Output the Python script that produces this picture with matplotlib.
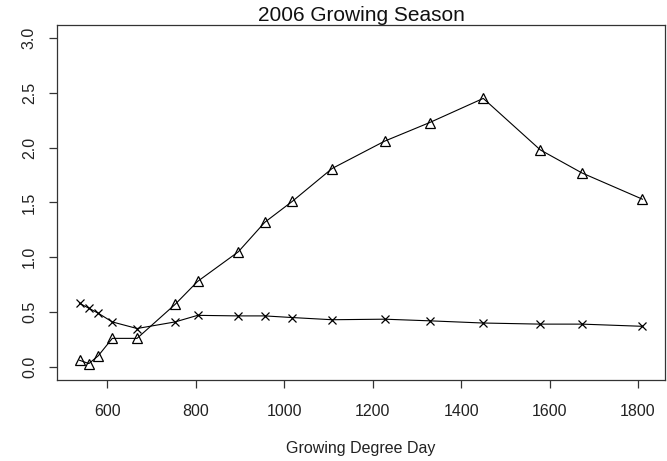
import numpy as np
import matplotlib.pyplot as plt

# growing degree day for each sampling date
gdd = [537, 558, 579, 611, 667, 753, 804, 896, 956, 1018, 1108,
       1227, 1329, 1450, 1579, 1673, 1810]
# series plotted with open triangles
tri_vals = [0.06, 0.03, 0.10, 0.26, 0.26, 0.57, 0.78, 1.05, 1.32, 1.51, 1.81,
            2.06, 2.23, 2.45, 1.98, 1.77, 1.53]
# series plotted with crosses
cross_vals = [0.58, 0.535, 0.49, 0.41, 0.35, 0.41, 0.47, 0.465, 0.465, 0.45, 0.43,
              0.435, 0.42, 0.40, 0.39, 0.39, 0.37]

xticks = [600, 800, 1000, 1200, 1400, 1600, 1800]
yticks = [0.0, 0.5, 1.0, 1.5, 2.0, 2.5, 3.0]

plt.rcParams['font.family'] = ['Liberation Sans', 'DejaVu Sans']

fig = plt.figure(figsize=(6.67, 4.61), dpi=100)
ax = fig.add_axes([0.0855, 0.1757, 0.9115, 0.7701])

ax.plot(gdd, tri_vals, color='black', lw=0.8, marker='^', ms=7,
        mfc='none', mec='black', mew=0.9)
ax.plot(gdd, cross_vals, color='black', lw=0.8, marker='x', ms=6,
        mec='black', mew=0.9)

ax.set_xlim(486, 1861)
ax.set_ylim(-0.12, 3.12)
ax.set_xticks(xticks)
ax.set_xticklabels([str(v) for v in xticks])
ax.set_yticks(yticks)
ax.set_yticklabels(['%.1f' % v for v in yticks], rotation=90, va='center')

for s in ax.spines.values():
    s.set_linewidth(0.9)
    s.set_color('#333333')

ax.tick_params(axis='x', length=6, width=0.9, color='#333333', pad=11,
               labelsize=11.5, labelcolor='#222222')
ax.tick_params(axis='y', length=6, width=0.9, color='#333333', pad=8.5,
               labelsize=11.5, labelcolor='#222222')

ax.set_title('2006 Growing Season', fontsize=15, pad=1.5, color='#111111')
ax.set_xlabel('Growing Degree Day', fontsize=11.5, labelpad=16, color='#222222')

plt.savefig('out.png', dpi=100)
